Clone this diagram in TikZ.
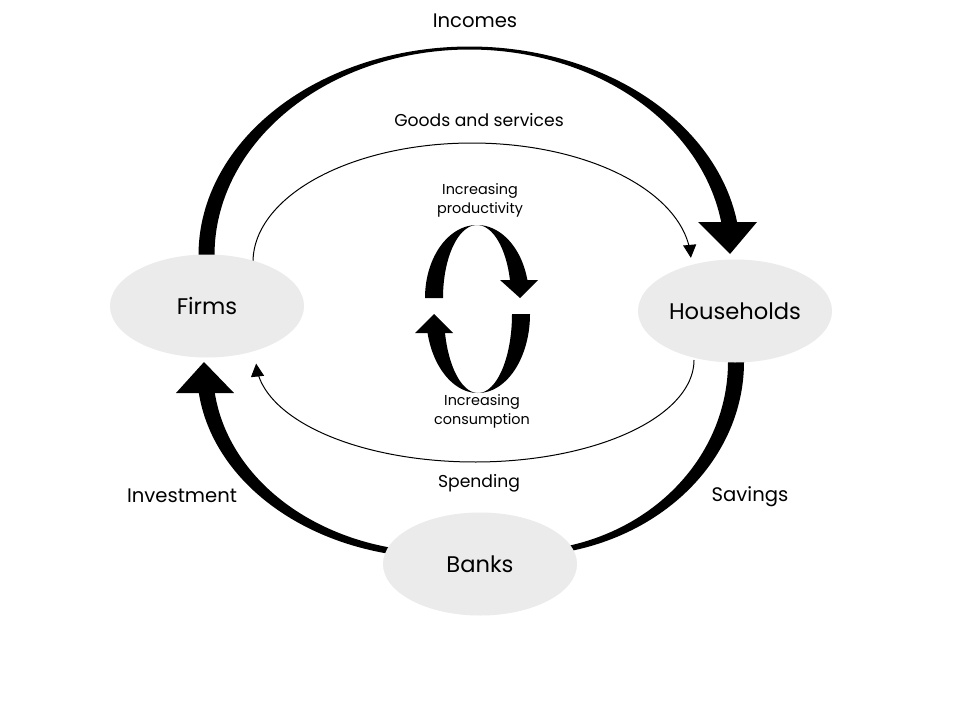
\documentclass[tikz,border=0pt]{standalone}
\usepackage{fontspec}
\setmainfont{Poppins}
\usetikzlibrary{arrows.meta,shapes.geometric}
\definecolor{ellgray}{RGB}{235,235,235}
\tikzset{
  agent/.style={ellipse, fill=ellgray, minimum width=194pt, minimum height=103pt, inner sep=0pt, font=\fontsize{22.6}{26}\selectfont},
  lbl/.style={font=\fontsize{17.2}{20}\selectfont, inner sep=0pt},
  blbl/.style={font=\fontsize{19.6}{23}\selectfont, inner sep=0pt},
  slbl/.style={font=\fontsize{14.4}{19}\selectfont, inner sep=0pt, align=center},
  flow/.style={line width=1pt, -{Triangle[width=13pt,length=13pt]}},
}
\begin{document}
\begin{tikzpicture}[x=1pt,y=-1pt]
\useasboundingbox (0,0) rectangle (960,720);
\fill[white] (0,0) rectangle (960,720);

% Incomes (top thick arc)
\fill plot[domain=180:350.9,samples=120,variable=\t] ({469.5+271*cos(\t)},{255+208.5*sin(\t)})
  -- plot[domain=350.7:180,samples=120,variable=\t] ({469.5+255*cos(\t)},{255+205.5*sin(\t)}) -- cycle;
\fill (698,222) -- (757,222) -- (730,254) -- cycle;

% Savings
\fill plot[domain=-3:88,samples=90,variable=\t] ({520+224*cos(\t)},{362+194*sin(\t)})
  -- plot[domain=88:-3,samples=90,variable=\t] ({520+208*cos(\t)},{362+189*sin(\t)}) -- cycle;

% Investment
\fill plot[domain=100:172.97,samples=90,variable=\t] ({440+243*cos(\t)},{370+188*sin(\t)})
  -- plot[domain=172.74:100,samples=90,variable=\t] ({440+227*cos(\t)},{370+182*sin(\t)}) -- cycle;
\fill (176,393) -- (234,393) -- (204,362) -- cycle;

% Goods and services / Spending
\draw[flow] plot[domain=180:358,samples=120,variable=\t] ({472+219*cos(\t)},{262+119*sin(\t)});
\draw[flow] plot[domain=0:178,samples=120,variable=\t] ({475+219*cos(\t)},{360+102*sin(\t)});

% central cycle arrows
\fill plot[domain=180:345.7,samples=80,variable=\t] ({477+52*cos(\t)},{298+73*sin(\t)})
  -- plot[domain=345.7:180,samples=80,variable=\t] ({477+34*cos(\t)},{298+73*sin(\t)}) -- cycle;
\fill (500,280) -- (538,280) -- (520,298) -- cycle;
\fill plot[domain=0:166,samples=80,variable=\t] ({478+52*cos(\t)},{314+79*sin(\t)})
  -- plot[domain=166:0,samples=80,variable=\t] ({478+34*cos(\t)},{314+79*sin(\t)}) -- cycle;
\fill (415,333) -- (453,333) -- (434,314) -- cycle;

% agents
\node[agent] (firms) at (207,306) {Firms};
\node[agent] (house) at (735,311) {Households};
\node[agent] (banks) at (480,564) {Banks};

% labels
\node[blbl] (inc) at (475,21) {Incomes};
\node[lbl] (goods) at (479,120) {Goods and services};
\node[lbl] (spend) at (479,483) {Spending};
\node[blbl] (inv) at (182,496) {Investment};
\node[blbl] (sav) at (750,497) {Savings};
\node[slbl] (prod) at (480,200) {Increasing\\productivity};
\node[slbl] (cons) at (482,411) {Increasing\\consumption};
\end{tikzpicture}
\end{document}
